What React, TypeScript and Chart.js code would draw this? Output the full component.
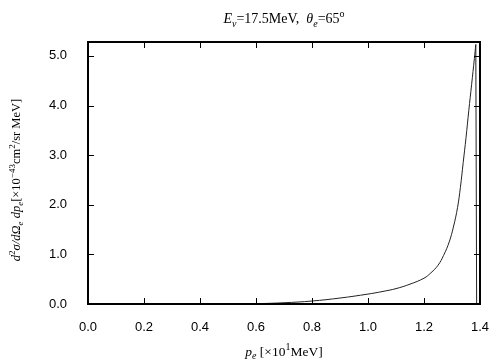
import React, { useEffect, useRef } from "react";
import { Chart, registerables } from "chart.js";

Chart.register(...registerables);

const pe = [0.6, 0.7, 0.8, 0.9, 1.0, 1.05, 1.1, 1.15, 1.2, 1.225, 1.25, 1.27, 1.29, 1.305, 1.32, 1.33, 1.34, 1.35, 1.36, 1.37, 1.38, 1.385];
const sigma = [0.005, 0.025, 0.06, 0.12, 0.2, 0.25, 0.31, 0.4, 0.52, 0.63, 0.78, 0.98, 1.25, 1.55, 1.95, 2.35, 2.85, 3.35, 3.9, 4.42, 4.95, 5.23];
const dropPe = [1.385, 1.388];
const dropSigma = [5.23, 0.0];
const xTicks = [0, 0.2, 0.4, 0.6, 0.8, 1.0, 1.2, 1.4];
const yTicks = [0, 1, 2, 3, 4, 5];

type Seg = { t: string; it?: boolean; pos?: "sub" | "sup" };

const titleSegs: Seg[] = [
  { t: "E", it: true }, { t: "ν", it: true, pos: "sub" }, { t: "=17.5MeV,  " },
  { t: "θ", it: true }, { t: "e", it: true, pos: "sub" }, { t: "=65" }, { t: "o", pos: "sup" },
];
const yLabelSegs: Seg[] = [
  { t: "d", it: true }, { t: "2", pos: "sup" }, { t: "σ/dΩ", it: true }, { t: "e", it: true, pos: "sub" },
  { t: " dp", it: true }, { t: "e", it: true, pos: "sub" }, { t: "[×10" }, { t: "−43", pos: "sup" },
  { t: "cm" }, { t: "2", pos: "sup" }, { t: "/sr MeV]" },
];
const xLabelSegs: Seg[] = [
  { t: "p", it: true }, { t: "e", it: true, pos: "sub" }, { t: " [×10" }, { t: "1", pos: "sup" }, { t: "MeV]" },
];

function fontFor(s: Seg, size: number) {
  const sz = s.pos ? Math.round(size * 0.72) : size;
  return `${s.it ? "italic " : ""}${sz}px "Liberation Serif", "DejaVu Serif", serif`;
}
function measure(ctx: CanvasRenderingContext2D, segs: Seg[], size: number) {
  let w = 0;
  for (const s of segs) { ctx.font = fontFor(s, size); w += ctx.measureText(s.t).width; }
  return w;
}
function drawRich(ctx: CanvasRenderingContext2D, segs: Seg[], size: number, cx: number, baseline: number) {
  const w = measure(ctx, segs, size);
  let x = cx - w / 2;
  ctx.textBaseline = "alphabetic";
  ctx.textAlign = "left";
  for (const s of segs) {
    ctx.font = fontFor(s, size);
    const dy = s.pos === "sub" ? size * 0.25 : s.pos === "sup" ? -size * 0.42 : 0;
    ctx.fillText(s.t, x, baseline + dy);
    x += ctx.measureText(s.t).width;
  }
}

const framePlugin = {
  id: "frame",
  afterDraw(chart: any) {
    const { ctx, chartArea: a, scales } = chart;
    ctx.save();
    ctx.strokeStyle = "#000";
    ctx.lineWidth = 1;
    const tl = 6;
    ctx.beginPath();
    for (const v of xTicks) {
      const px = Math.round(scales.x.getPixelForValue(v)) + 0.5;
      ctx.moveTo(px, a.bottom); ctx.lineTo(px, a.bottom - tl);
      ctx.moveTo(px, a.top); ctx.lineTo(px, a.top + tl);
    }
    for (const v of yTicks) {
      const py = Math.round(scales.y.getPixelForValue(v)) + 0.5;
      ctx.moveTo(a.left, py); ctx.lineTo(a.left + tl, py);
      ctx.moveTo(a.right, py); ctx.lineTo(a.right - tl, py);
    }
    ctx.stroke();
    ctx.lineWidth = 2;
    ctx.strokeRect(a.left, a.top, a.right - a.left, a.bottom - a.top);
    ctx.fillStyle = "#000";
    const cx = (a.left + a.right) / 2;
    drawRich(ctx, titleSegs, 14, cx, 23);
    drawRich(ctx, xLabelSegs, 13.5, cx, 356);
    ctx.translate(20, (a.top + a.bottom) / 2 + 7);
    ctx.rotate(-Math.PI / 2);
    drawRich(ctx, yLabelSegs, 12.5, 0, 0);
    ctx.restore();
  },
};

export default function App() {
  const ref = useRef<HTMLCanvasElement>(null);
  useEffect(() => {
    document.body.style.margin = "0";
    const chart = new Chart(ref.current!, {
      type: "line",
      data: {
        datasets: [
          {
            data: pe.map((x, i) => ({ x, y: sigma[i] })),
            borderColor: "#222",
            borderWidth: 1,
            pointRadius: 0,
            tension: 0.4,
            fill: false,
          },
          {
            data: dropPe.map((x, i) => ({ x, y: dropSigma[i] })),
            borderColor: "#222",
            borderWidth: 1,
            pointRadius: 0,
            tension: 0,
            fill: false,
          },
        ],
      },
      options: {
        responsive: false,
        animation: false,
        layout: { padding: { left: 0, top: 42, right: 24, bottom: 0 } },
        plugins: { legend: { display: false }, tooltip: { enabled: false } },
        scales: {
          x: {
            type: "linear", min: 0, max: 1.4,
            grid: { display: false }, border: { display: false },
            afterBuildTicks: (s: any) => { s.ticks = xTicks.map((v) => ({ value: v })); },
            afterFit: (s: any) => { s.height = 56; },
            ticks: {
              padding: 8, color: "#000",
              font: { family: '"Liberation Sans", Arial, sans-serif', size: 13 },
              callback: (v: any) => Number(v).toFixed(1),
              maxRotation: 0,
            },
          },
          y: {
            type: "linear", min: 0, max: 5.28,
            grid: { display: false }, border: { display: false },
            afterBuildTicks: (s: any) => { s.ticks = yTicks.map((v) => ({ value: v })); },
            afterFit: (s: any) => { s.width = 88; },
            ticks: {
              padding: 13, color: "#000",
              font: { family: '"Liberation Sans", Arial, sans-serif', size: 13 },
              callback: (v: any) => Number(v).toFixed(1),
            },
          },
        },
      },
      plugins: [framePlugin],
    } as any);
    return () => chart.destroy();
  }, []);
  return (
    <div style={{ position: "absolute", left: 0, top: 0, width: 504, height: 360, background: "#fff" }}>
      <canvas ref={ref} width={504} height={360} />
    </div>
  );
}
